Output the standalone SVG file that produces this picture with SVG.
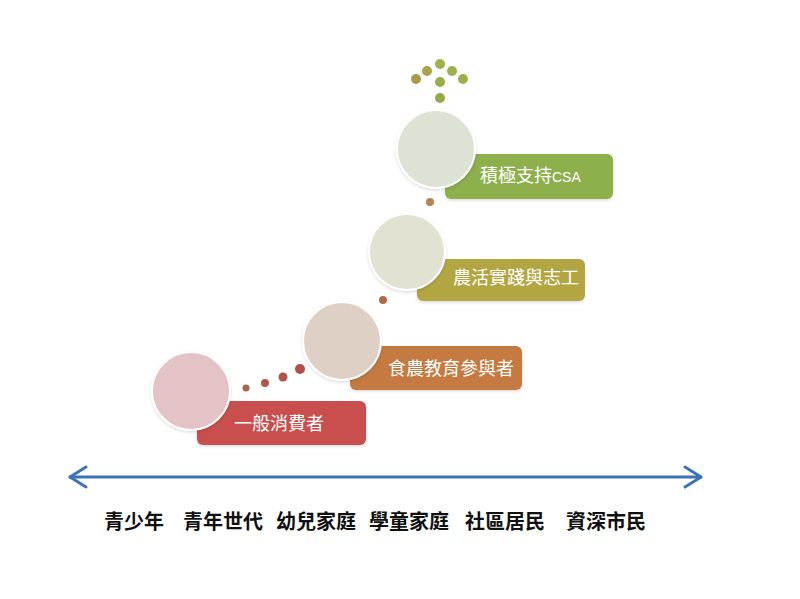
<svg xmlns="http://www.w3.org/2000/svg" width="800" height="599" viewBox="0 0 800 599">
<defs>
<filter id="sh" x="-20%" y="-20%" width="140%" height="150%">
<feDropShadow dx="0" dy="1.5" stdDeviation="1.5" flood-color="#000" flood-opacity="0.14"/>
</filter>
<style>
.card{filter:url(#sh)}
.disc{stroke:#fff;stroke-width:2;filter:url(#sh)}
.lbl{font-family:"Noto Sans CJK TC","Noto Sans CJK SC",sans-serif;font-size:18px;fill:#fff}
.axt{font-family:"Noto Sans CJK TC","Noto Sans CJK SC",sans-serif;font-size:20px;font-weight:bold;fill:#111}
.axis{stroke:#3b73b9;stroke-width:3;fill:none;stroke-linecap:round;stroke-linejoin:round}
</style>
</defs>
<rect width="800" height="599" fill="#fff"/>
<g id="connectors">
<circle cx="246" cy="388" r="3.5" fill="#a8644c"/>
<circle cx="265" cy="383" r="4" fill="#b0574a"/>
<circle cx="283" cy="377" r="4.5" fill="#b0524a"/>
<circle cx="300" cy="369" r="5" fill="#b24e48"/>
<circle cx="383" cy="300" r="4" fill="#b06a4a"/>
<circle cx="430" cy="202" r="4" fill="#b9824f"/>
<g id="up-arrow">
<circle cx="440" cy="64" r="5" fill="#9eb24a"/>
<circle cx="427" cy="71" r="5" fill="#aaa347"/>
<circle cx="452" cy="71" r="5" fill="#9db14b"/>
<circle cx="416" cy="79" r="5" fill="#a59c4a"/>
<circle cx="440" cy="82" r="5" fill="#98ad48"/>
<circle cx="463" cy="79" r="5" fill="#9fae4c"/>
<circle cx="440" cy="98" r="5" fill="#92ab46"/>
</g>
<g id="axis">
<line class="axis" x1="70" y1="477" x2="701" y2="477"/>
<polyline class="axis" stroke-width="4" points="86,467 70,477 86,487"/>
<polyline class="axis" stroke-width="4" points="685,467 701,477 685,487"/>
</g>
</g>
<g id="node-1">
<rect class="card" x="197" y="401" width="169" height="44" rx="6" fill="#c8504e"/>
<circle class="disc" cx="191" cy="391" r="39" fill="#e4c3c6"/>
<text class="lbl" x="279" y="430" text-anchor="middle">一般消費者</text>
</g>
<g id="node-2">
<rect class="card" x="350" y="346" width="172" height="44" rx="6" fill="#c47a3f"/>
<circle class="disc" cx="342" cy="341" r="39" fill="#dfd0c6"/>
<text class="lbl" x="451" y="375" text-anchor="middle">食農教育參與者</text>
</g>
<g id="node-3">
<rect class="card" x="417" y="259" width="168" height="42" rx="6" fill="#b2a642"/>
<circle class="disc" cx="407" cy="252" r="38" fill="#e1e2d2"/>
<text class="lbl" x="516" y="284" text-anchor="middle">農活實踐與志工</text>
</g>
<g id="node-4">
<rect class="card" x="445" y="154" width="168" height="45" rx="6" fill="#8db04d"/>
<circle class="disc" cx="436" cy="149" r="39" fill="#dce3d5"/>
<text class="lbl" x="480" y="182">積極支持<tspan font-family="Liberation Sans, sans-serif" font-size="14">CSA</tspan></text>
</g>
<g id="axis-labels">
<text class="axt" x="104" y="529">青少年</text>
<text class="axt" x="183" y="529">青年世代</text>
<text class="axt" x="276" y="529">幼兒家庭</text>
<text class="axt" x="369" y="529">學童家庭</text>
<text class="axt" x="465" y="529">社區居民</text>
<text class="axt" x="566" y="529">資深市民</text>
</g>
</svg>
